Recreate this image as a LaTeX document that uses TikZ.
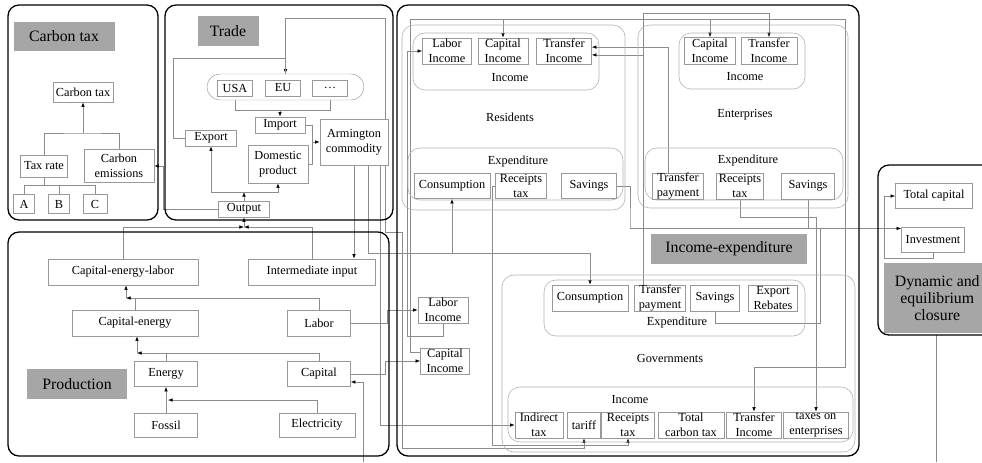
\documentclass[tikz,border=0pt]{standalone}
\usepackage{fontspec}
\setmainfont{Liberation Serif}
\usetikzlibrary{arrows.meta,backgrounds}

\begin{document}
\begin{tikzpicture}[x=0.03cm,y=-0.03cm,
    panel/.style={draw=black,line width=1.1pt,rounded corners=0.33cm},
    group/.style={draw=black!30,line width=0.5pt,rounded corners=0.36cm},
    box/.style={draw=black!40,fill=white,line width=0.5pt,inner sep=0pt,align=center,font=\fontsize{10.5}{12.5}\selectfont},
    sz/.style 2 args={minimum width=#1*0.03cm,minimum height=#2*0.03cm},
    title/.style={fill=black!35,inner sep=0pt,align=center,font=\fontsize{13.5}{14.5}\selectfont},
    lbl/.style={inner sep=0pt,font=\fontsize{10.5}{12.5}\selectfont},
    link/.style={draw=black!45,line width=0.45pt},
    arr/.style={link,-{Latex[length=4pt,width=3pt,color=black]}}]
\useasboundingbox (0,0) rectangle (982,462);
\clip (0,0) rectangle (982,462);

% panels
\draw[panel] (8,5) rectangle (158,220);
\draw[panel] (165,5) rectangle (393,220);
\draw[panel] (397,5) rectangle (859,456);
\draw[panel] (8,232) rectangle (389,456);
\draw[panel] (878,165) rectangle (1000,335);

% groups
\draw[group] (402,25) rectangle (625,210);
\draw[group] (413,33) rectangle (599,90);
\draw[group] (408,148) rectangle (623,200);
\draw[group] (638,25) rectangle (848,208);
\draw[group] (679,33) rectangle (805,89);
\draw[group] (645,148) rectangle (843,200);
\draw[group] (502,275) rectangle (855,452);
\draw[group] (544,280) rectangle (805,336);
\draw[group] (508,387) rectangle (853,442);

% carbon tax
\node[title,sz={101}{29}] (ctitle) at (64,36) {Carbon tax};
\node[box,sz={60}{20}] (ctax) at (83,92) {Carbon tax};
\node[box,sz={47}{22}] (taxrate) at (44,166) {Tax rate};
\node[box,sz={70}{33}] (cemis) at (119,166) {Carbon\\emissions};
\node[box,sz={21}{19}] (ra) at (24,204) {A};
\node[box,sz={21}{19}] (rb) at (59,204) {B};
\node[box,sz={24}{19}] (rc) at (95,204) {C};

% trade
\node[title,sz={61}{30}] (ttitle) at (228,31) {Trade};
\node[draw=black!40,fill=white,rounded corners=0.39cm,sz={157}{26}] (countries) at (285.5,87) {};
\node[box,sz={35}{16}] (usa) at (235,88) {USA};
\node[box,sz={35}{16}] (eu) at (283,88) {EU};
\node[box,sz={35}{16}] (etc) at (330,88) {\dots};
\node[box,sz={50}{16}] (import) at (280,125) {Import};
\node[box,sz={51}{16}] (export) at (211,138) {Export};
\node[box,sz={60}{38}] (domestic) at (278,164) {Domestic\\product};
\node[box,sz={68}{46}] (arming) at (354,142) {Armington\\commodity};
\node[box,sz={51}{16}] (output) at (244,209) {Output};

% production
\node[box,sz={150}{26}] (cel) at (123,272) {Capital-energy-labor};
\node[box,sz={127}{26}] (inter) at (312,272) {Intermediate input};
\node[box,sz={126}{26}] (ce) at (135,323) {Capital-energy};
\node[box,sz={63}{26}] (labor) at (319,323) {Labor};
\node[box,sz={63}{25}] (energy) at (166,374) {Energy};
\node[box,sz={63}{25}] (capital) at (319,374) {Capital};
\node[title,sz={100}{30}] (ptitle) at (77,384) {Production};
\node[box,sz={63}{24}] (fossil) at (166,425) {Fossil};
\node[box,sz={76}{24}] (elec) at (317,425) {Electricity};

% residents
\node[box,sz={49}{26}] (rlab) at (447,51) {Labor\\Income};
\node[box,sz={50}{26}] (rcap) at (503,51) {Capital\\Income};
\node[box,sz={55}{26}] (rtra) at (564,51) {Transfer\\Income};
\node[lbl] (rinc) at (510,78) {Income};
\node[lbl] (rres) at (510,117) {Residents};
\node[lbl] (rexp) at (518,162) {Expenditure};
\node[box,sz={76}{25}] (rcons) at (452,186) {Consumption};
\node[box,sz={51}{25}] (rrec) at (521,186) {Receipts\\tax};
\node[box,sz={55}{25}] (rsav) at (589,186) {Savings};

% enterprises
\node[box,sz={51}{27}] (ecap) at (710,51) {Capital\\Income};
\node[box,sz={56}{27}] (etra) at (769,51) {Transfer\\Income};
\node[lbl] (einc) at (745,77) {Income};
\node[lbl] (eent) at (745,115) {Enterprises};
\node[lbl] (eexp) at (748,161) {Expenditure};
\node[box,sz={51}{26}] (etp) at (678,186) {Transfer\\payment};
\node[box,sz={47}{26}] (erec) at (740,186) {Receipts\\tax};
\node[box,sz={53}{26}] (esav) at (808,186) {Savings};

% factor income
\node[box,sz={50}{26}] (flab) at (443,310) {Labor\\Income};
\node[box,sz={49}{26}] (fcap) at (445,361) {Capital\\Income};
\node[title,sz={156}{30}] (ietitle) at (729,249) {Income-expenditure};

% governments
\node[box,sz={76}{26}] (gcons) at (590,298) {Consumption};
\node[box,sz={51}{26}] (gtp) at (660,298) {Transfer\\payment};
\node[box,sz={49}{26}] (gsav) at (715,298) {Savings};
\node[box,sz={49}{26}] (grebate) at (773,298) {Export\\Rebates};
\node[lbl] (gexp) at (677,323) {Expenditure};
\node[lbl] (ggov) at (670,358) {Governments};
\node[lbl] (ginc) at (630,400) {Income};
\node[box,sz={48}{26}] (gind) at (539,425) {Indirect\\tax};
\node[box,sz={33}{26}] (gtar) at (584,425) {tariff};
\node[box,sz={53}{26}] (grec) at (628,425) {Receipts\\tax};
\node[box,sz={66}{26}] (gcarb) at (691,425) {Total\\carbon tax};
\node[box,sz={55}{26}] (gtra) at (754,425) {Transfer\\Income};
\node[box,sz={65}{26}] (gent) at (816,425) {taxes on\\enterprises};

% dynamic
\node[title,sz={106}{70},anchor=north west] (dtitle) at (884,263) {Dynamic and\\equilibrium\\closure};
\node[box,sz={77}{25}] (tcap) at (934,196) {Total capital};
\node[box,sz={63}{25}] (invest) at (933,240) {Investment};

\begin{scope}[on background layer]
% carbon tax
\coordinate (j1) at (83,133);
\coordinate (j2) at (0,185);
\draw[link] (taxrate.north) |- (j1) -| (cemis.north);
\draw[arr] (j1) -- (ctax.south);
\draw[link] (taxrate.south) -- (taxrate.south |- j2);
\draw[link] (ra.north) -- (ra.north |- j2) -- (rc.north |- j2) -- (rc.north);
\draw[link] (rb.north) -- (rb.north |- j2);

% trade
\coordinate (t1) at (0,110);
\coordinate (t2) at (312,142);
\coordinate (t3) at (244,192);
\coordinate (t4) at (173,58);
\coordinate (t5) at (163,166);
\coordinate (t6) at (385,18);
\coordinate (t7) at (402,232);
\coordinate (t8) at (0,448);
\draw[link] (usa.south |- countries.south) -- (usa.south |- t1) -- (etc.south |- t1) -- (etc.south |- countries.south);
\draw[arr] (import.north |- t1) -- (import.north);
\draw[link] (import.east) -| (t2);
\draw[link] (domestic.east) -| (t2);
\draw[arr] (t2) -- (arming.west);
\draw[arr] (output.north) -- (t3);
\draw[arr] (t3) -| (export.south);
\draw[arr] (t3) -| (domestic.south);
\draw[arr] (export.west) -| (t4) -| (countries.north);
\draw[arr] (output.west) -| (t5) -- (cemis.east);
\draw[arr] (countries.north) |- (t6) |- (t7) |- (gtar.south |- t8) -- (gtar.south);

% production
\coordinate (p1) at (168,400);
\coordinate (p2) at (137,353);
\coordinate (p3) at (126,298);
\coordinate (p4) at (244,227);
\draw[arr] (fossil.north) -- (energy.south);
\draw[arr] (elec.north) |- (p1);
\draw[link] (energy.north) -- (energy.north |- p2);
\draw[arr] (capital.north) |- (p2);
\draw[arr] (p2) -- (p2 |- ce.south);
\draw[link] (ce.north) -- (ce.north |- p3);
\draw[arr] (labor.north) |- (p3);
\draw[arr] (p3) -- (p3 |- cel.south);
\draw[arr] (cel.north) |- (p4);
\draw[arr] (inter.north) |- (p4);
\draw[arr] (p4) -- (output.south);

% factor flows
\coordinate (f1) at (387,310);
\coordinate (f2) at (385,361);
\coordinate (f3) at (363,462);
\coordinate (f4) at (407,336);
\coordinate (f5) at (410,19);
\coordinate (f6) at (845,367);
\draw[arr] (labor.east) -| (f1) -- (flab.west);
\draw[arr] (capital.east) -| (f2) -- (fcap.west);
\draw[arr] (f3) |- ([yshift=-0.24cm]capital.east);
\draw[arr] (flab.south) |- (f4) |- (rlab.west);
\draw[arr] (fcap.160) -| (f5) -| (f6) -| (gtra.north);
\draw[arr] (rcap.north |- f5) -- (rcap.north);
\draw[arr] (ecap.north |- f5) -- (ecap.north);

% armington flows
\coordinate (a1) at (368,253);
\coordinate (a2) at (380,425);
\draw[arr] (arming.south) -- (arming.south |- inter.north);
\draw[arr] (arming.south -| a1) -- (a1) -| (gcons.north);
\draw[arr] (rcons.south |- a1) -- (rcons.south);
\draw[arr] (arming.south -| a2) -- (a2) -- (gind.west);

% income and expenditure
\coordinate (r1) at (492,445);
\coordinate (r2) at (630,229);
\coordinate (r3) at (820,323);
\coordinate (r4) at (815,217);
\coordinate (r5) at (643,13);
\draw[arr] (rrec.west) -| (r1) -| (grec.south);
\draw[arr] (rsav.east) -| (r2) |- (invest.160);
\draw[link] (esav.south) -- (esav.south |- r2);
\draw[link] (gsav.south) |- (r3) -- (r3 |- r2);
\draw[arr] (erec.south) |- (gent.north |- r4) -- (gent.north);
\draw[arr] ([xshift=-0.3cm]etp.north) |- (rtra.8);
\draw[link] (gtp.north -| r5) -- (r5) -- (etra.north |- r5);
\draw[arr] (etra.north |- r5) -- (etra.north);
\draw[arr] (r5 |- rtra.-8) -- (rtra.-8);

% dynamic
\coordinate (d1) at (884,258);
\coordinate (d2) at (936,462);
\coordinate (d3) at (936,335);
\draw[arr] (invest.south) |- (d1) |- (tcap.west);
\draw[link] (d2) -- (d3);
\end{scope}
\end{tikzpicture}
\end{document}
